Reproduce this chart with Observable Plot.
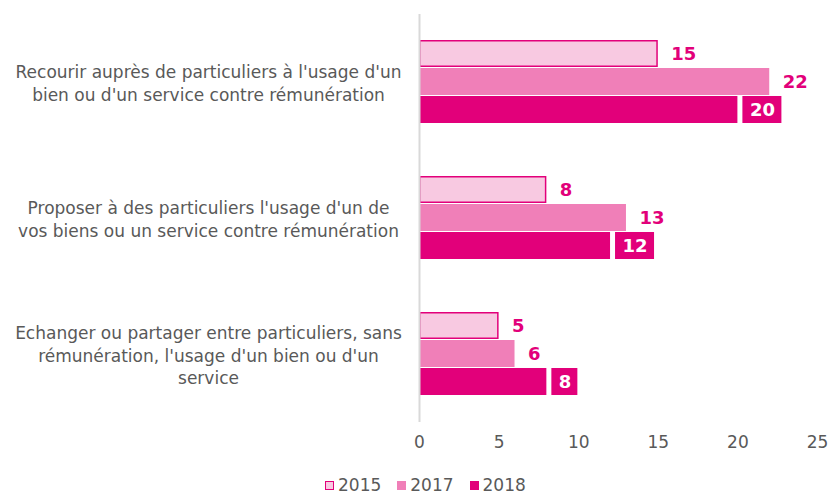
<!DOCTYPE html>
<html><head><meta charset="utf-8">
<script src="https://cdn.jsdelivr.net/npm/d3@7"></script>
<script src="https://cdn.jsdelivr.net/npm/@observablehq/plot@0.6"></script>
<style>
html,body{margin:0;padding:0;background:#fff;}
body{width:829px;height:494px;position:relative;overflow:hidden;font-family:"DejaVu Sans",Verdana,sans-serif;}
#chart{position:absolute;left:0;top:0;}
#legend{position:absolute;left:325px;top:475px;display:flex;align-items:center;font-size:17px;color:#595959;line-height:20px;}
#legend .item{display:flex;align-items:center;margin-right:16px;}
#legend .sw{width:9px;height:9px;margin-right:4px;box-sizing:border-box;}
</style></head><body>
<div id="chart"></div>
<div id="legend"></div>
<script>
const categories = [
  "Recourir auprès de particuliers à l'usage d'un\nbien ou d'un service contre rémunération",
  "Proposer à des particuliers l'usage d'un de\nvos biens ou un service contre rémunération",
  "Echanger ou partager entre particuliers, sans\nrémunération, l'usage d'un bien ou d'un\nservice"
];
const years = ["2015", "2017", "2018"];
const values2015 = [15, 8, 5];
const values2017 = [22, 13, 6];
const values2018 = [20, 12, 8];
const xTicks = [0, 5, 10, 15, 20, 25];
const colors = ["#f8c9e1", "#f07fb8", "#e2007a"];
const magenta = "#e2007a";

const series = [values2015, values2017, values2018];
const data = [];
categories.forEach((c, i) => years.forEach((y, j) => data.push({category: c, year: y, value: series[j][i]})));
const d2015 = data.filter(d => d.year === "2015");
const dOut = data.filter(d => d.year !== "2018");
const d2018 = data.filter(d => d.year === "2018");

const chart = Plot.plot({
  width: 829,
  height: 470,
  marginLeft: 419,
  marginRight: 12,
  marginTop: 14,
  marginBottom: 48,
  style: {fontFamily: "'DejaVu Sans', Verdana, sans-serif", fontSize: "17px", color: "#595959", background: "#fff"},
  x: {domain: [0, 25], ticks: xTicks, tickSize: 0, tickPadding: 13, label: null},
  fy: {domain: categories, padding: 0, axis: null, label: null},
  y: {domain: years, paddingInner: 0.02, paddingOuter: 0.91, axis: null},
  color: {domain: years, range: colors},
  marks: [
    Plot.barX(data.filter(d => d.year !== "2015"), {fy: "category", y: "year", x: "value", fill: "year"}),
    Plot.barX(d2015, {fy: "category", y: "year", x: "value", fill: colors[0], stroke: magenta, strokeWidth: 1.5, inset: 0.75}),
    Plot.ruleX([0], {stroke: "#d9d9d9", strokeWidth: 2}),
    Plot.text(dOut, {fy: "category", y: "year", x: "value", text: d => String(d.value), dx: 13, textAnchor: "start", fill: magenta, fontWeight: "bold", fontSize: 18}),
    Plot.barX(d2018.filter(d => d.value < 10), {fy: "category", y: "year", x1: "value", x2: "value", fill: magenta, insetLeft: 5, insetRight: -31}),
    Plot.barX(d2018.filter(d => d.value >= 10), {fy: "category", y: "year", x1: "value", x2: "value", fill: magenta, insetLeft: 5, insetRight: -44}),
    Plot.text(d2018, {fy: "category", y: "year", x: "value", text: d => String(d.value), dx: 12, textAnchor: "start", fill: "#fff", fontWeight: "bold", fontSize: 18}),
    Plot.text(categories, {fy: d => d, text: d => d, frameAnchor: "left", dx: -211, textAnchor: "middle", lineHeight: 1.32, fill: "#595959", fontSize: 17})
  ]
});
document.getElementById("chart").appendChild(chart);

const legend = document.getElementById("legend");
years.forEach((y, i) => {
  const item = document.createElement("div");
  item.className = "item";
  const sw = document.createElement("span");
  sw.className = "sw";
  sw.style.background = colors[i];
  if (i === 0) sw.style.border = "1.5px solid " + magenta;
  const t = document.createElement("span");
  t.textContent = y;
  item.appendChild(sw);
  item.appendChild(t);
  legend.appendChild(item);
});
</script>
</body></html>
